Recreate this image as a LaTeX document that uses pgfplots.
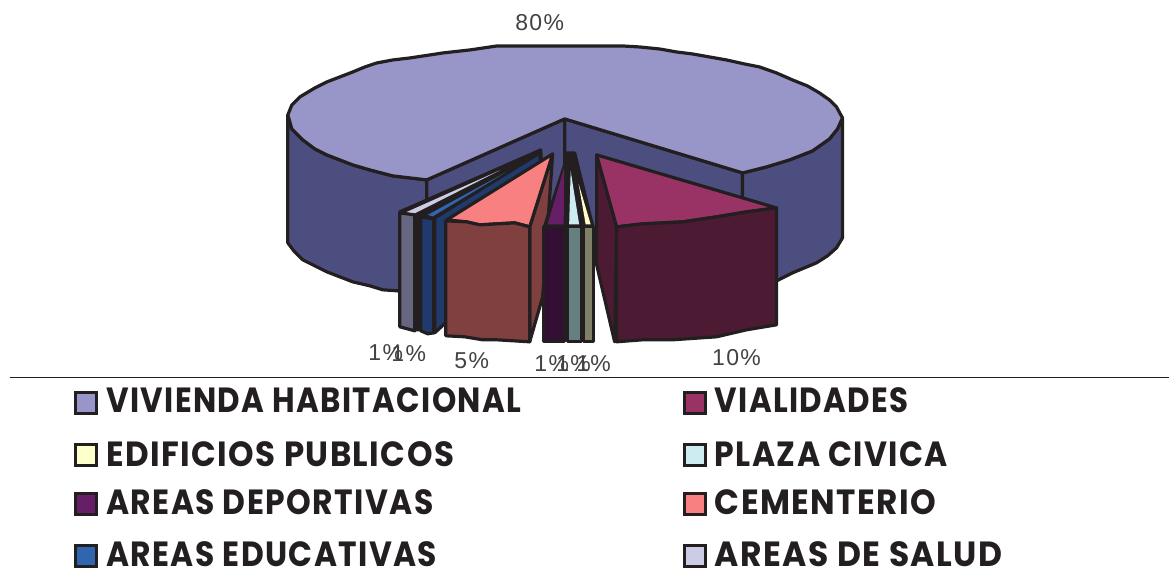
\documentclass[border=0pt]{standalone}
\usepackage{fontspec}
\usepackage{graphicx}
\setmainfont{Liberation Sans}
\newfontfamily\legfont[LetterSpace=4.5]{Poppins}
\newfontfamily\numfont[LetterSpace=6]{Liberation Sans}
\usepackage{pgfplots}
\pgfplotsset{compat=1.18}
\definecolor{lin}{HTML}{231F20}
\definecolor{topA}{HTML}{9896C8}
\definecolor{sideA}{HTML}{4D4E80}
\definecolor{topB}{HTML}{993366}
\definecolor{sideB}{HTML}{4D1A33}
\definecolor{topC}{HTML}{FFFFCC}
\definecolor{sideC}{HTML}{808066}
\definecolor{topD}{HTML}{CCECF2}
\definecolor{sideD}{HTML}{668080}
\definecolor{topE}{HTML}{661F66}
\definecolor{sideE}{HTML}{330F33}
\definecolor{topF}{HTML}{F98080}
\definecolor{sideF}{HTML}{804040}
\definecolor{topG}{HTML}{2F66AE}
\definecolor{sideG}{HTML}{1F3A6B}
\definecolor{topH}{HTML}{CCCCE6}
\definecolor{sideH}{HTML}{666680}
\pgfplotsset{sl/.style={draw=lin,line width=3.2pt,line join=round,fill=#1},
 bare/.style={draw=none,fill=#1}}
\newcommand{\num}[3]{\node[text=lin!85,inner sep=0pt,anchor=center] at (axis cs:#1,#2) {\numfont\fontsize{23}{23}\selectfont #3};}
\newcommand{\leg}[4]{\node[text=lin,inner sep=0pt,anchor=west] at (axis cs:#1,#2) {\scalebox{#3}[1]{\legfont\bfseries\fontsize{35}{35}\selectfont #4}};}
\begin{document}
\begin{tikzpicture}
\begin{axis}[scale only axis,width=1170pt,height=584pt,xmin=0,xmax=1170,ymin=0,ymax=584,y dir=reverse,axis lines=none,clip=false]
\addplot[bare=white] coordinates {(0,0)(1170,0)(1170,584)(0,584)} --cycle;
% large slice: walls
\addplot[sl=sideA] coordinates {(288,115)(292,129)(303,140)(315,149)(327,155)(340,160)(353,165)(370,170)(393,176)(410,178)(427,180)(427,300)(398,291)(383,290)(370,286)(353,282)(340,277)(327,272)(315,266)(303,260)(294,251)(288,243)} --cycle;
\addplot[sl=sideA] coordinates {(427,180)(565,119)(565,250)(427,300)} --cycle;
\addplot[sl=sideA] coordinates {(565,119)(743,173)(743,290)(565,250)} --cycle;
\addplot[sl=sideA] coordinates {(743,173)(767,167)(790,160)(813,151)(830,139)(838,129)(843,118)(843,238)(837,248)(828,256)(817,263)(805,268)(793,273)(777,281)(743,290)} --cycle;
% large slice: top
\addplot[sl=topA] coordinates {(427,180)(410,178)(393,176)(370,170)(353,165)(340,160)(327,155)(315,149)(303,140)(292,129)(288,115)(292,105)(300,97)(315,88)(327,82)(340,77)(353,72)(365,67)(377,63)(393,60)(410,58)(430,55)(443,53)(470,50)(497,46)(530,46)(565,46)(600,46)(623,46)(640,47)(660,49)(677,52)(693,54)(710,57)(727,60)(745,64)(760,67)(777,73)(793,80)(808,86)(820,93)(830,100)(837,107)(843,118)(838,129)(830,139)(813,151)(790,160)(767,167)(743,173)(565,119)} --cycle;
% areas de salud and areas educativas
\addplot[sl=lin] coordinates {(400,212)(541,150)(542,165)(447,222)(447,320)(434,333)(421,330)(415,330)(415,215)} --cycle;
\addplot[bare=topH] coordinates {(406,212.5)(500,170.5)(415,213.5)} --cycle;
\addplot[sl=sideH] coordinates {(400,213)(415,215)(415,331)(400,327)} --cycle;
\addplot[sl=sideG] coordinates {(435,218)(540,153)(541,166)(447,222)(447,322)(435,333)} --cycle;
\addplot[bare=topG] coordinates {(428,215)(506,172.5)(433,216.5)} --cycle;
\addplot[sl=sideG] coordinates {(421,217)(434,219)(434,333)(428,334)(421,331)} --cycle;
% cementerio
\addplot[sl=sideF] coordinates {(553,154)(530,227)(530,342)(543,297)} --cycle;
\addplot[sl=topF] coordinates {(553,154)(447,220)(467,222)(480,225)(497,224)(515,223)(530,227)} --cycle;
\addplot[sl=sideF] coordinates {(446,221)(467,222)(480,225)(497,224)(515,223)(530,227)(530,342)(497,340)(483,340)(465,337)(446,336)} --cycle;
% areas deportivas, plaza civica and edificios publicos
\addplot[sl=lin] coordinates {(566,153)(575,153)(593,226)(545,226)(565,165)} --cycle;
\addplot[bare=topE] coordinates {(564.5,168)(548,224.5)(564,224.5)} --cycle;
\addplot[bare=topD] coordinates {(571,171)(569.5,224.5)(579.5,224.5)} --cycle;
\addplot[bare=topC] coordinates {(579,184)(586,224.5)(591,224.5)} --cycle;
\addplot[sl=sideE] coordinates {(544,227)(565,227)(565,342)(544,342)} --cycle;
\addplot[sl=sideC] coordinates {(584,227)(594,227)(594,342)(584,342)} --cycle;
\addplot[sl=sideD] coordinates {(568,227)(582,227)(582,342)(568,342)} --cycle;
% vialidades
\addplot[sl=sideB] coordinates {(597,155)(617,227)(615,342)(597,265)} --cycle;
\addplot[sl=topB] coordinates {(597,155)(777,208)(747,212)(717,217)(683,222)(643,224)(617,227)} --cycle;
\addplot[sl=sideB] coordinates {(617,227)(643,224)(683,222)(717,217)(747,212)(777,208)(777,325)(747,330)(717,337)(673,340)(643,340)(617,342)} --cycle;
% separator
\addplot[draw=lin,line width=1.4pt] coordinates {(10,378)(1170,378)};
% legend keys
\addplot[draw=lin,line width=3pt,fill=topA] coordinates {(76,393)(97,393)(97,414)(76,414)} --cycle;
\addplot[draw=lin,line width=3pt,fill=topC] coordinates {(76,445)(97,445)(97,466)(76,466)} --cycle;
\addplot[draw=lin,line width=3pt,fill=topE] coordinates {(76,494)(97,494)(97,515)(76,515)} --cycle;
\addplot[draw=lin,line width=3pt,fill=topG] coordinates {(76,546)(97,546)(97,567)(76,567)} --cycle;
\addplot[draw=lin,line width=3pt,fill=topB] coordinates {(684.5,393)(706,393)(706,414)(684.5,414)} --cycle;
\addplot[draw=lin,line width=3pt,fill=topD] coordinates {(684.5,445)(706,445)(706,466)(684.5,466)} --cycle;
\addplot[draw=lin,line width=3pt,fill=topF] coordinates {(684.5,494)(706,494)(706,515)(684.5,515)} --cycle;
\addplot[draw=lin,line width=3pt,fill=topH] coordinates {(684.5,546)(706,546)(706,567)(684.5,567)} --cycle;
% labels
\num{540}{23}{80\%}
\num{386}{353}{1\%}
\num{409}{354}{1\%}
\num{472}{361}{5\%}
\num{552}{364}{1\%}
\num{574}{364}{1\%}
\num{594}{364}{1\%}
\num{737}{358}{10\%}
\leg{106}{400.5}{.884}{VIVIENDA HABITACIONAL}
\leg{106}{454}{.928}{EDIFICIOS PUBLICOS}
\leg{106}{502.5}{.898}{AREAS DEPORTIVAS}
\leg{106}{554.5}{.896}{AREAS EDUCATIVAS}
\leg{715}{400.5}{.883}{VIALIDADES}
\leg{715}{454}{.90}{PLAZA CIVICA}
\leg{715}{502.5}{.934}{CEMENTERIO}
\leg{715}{554.5}{.942}{AREAS DE SALUD}
\end{axis}
\end{tikzpicture}
\end{document}
